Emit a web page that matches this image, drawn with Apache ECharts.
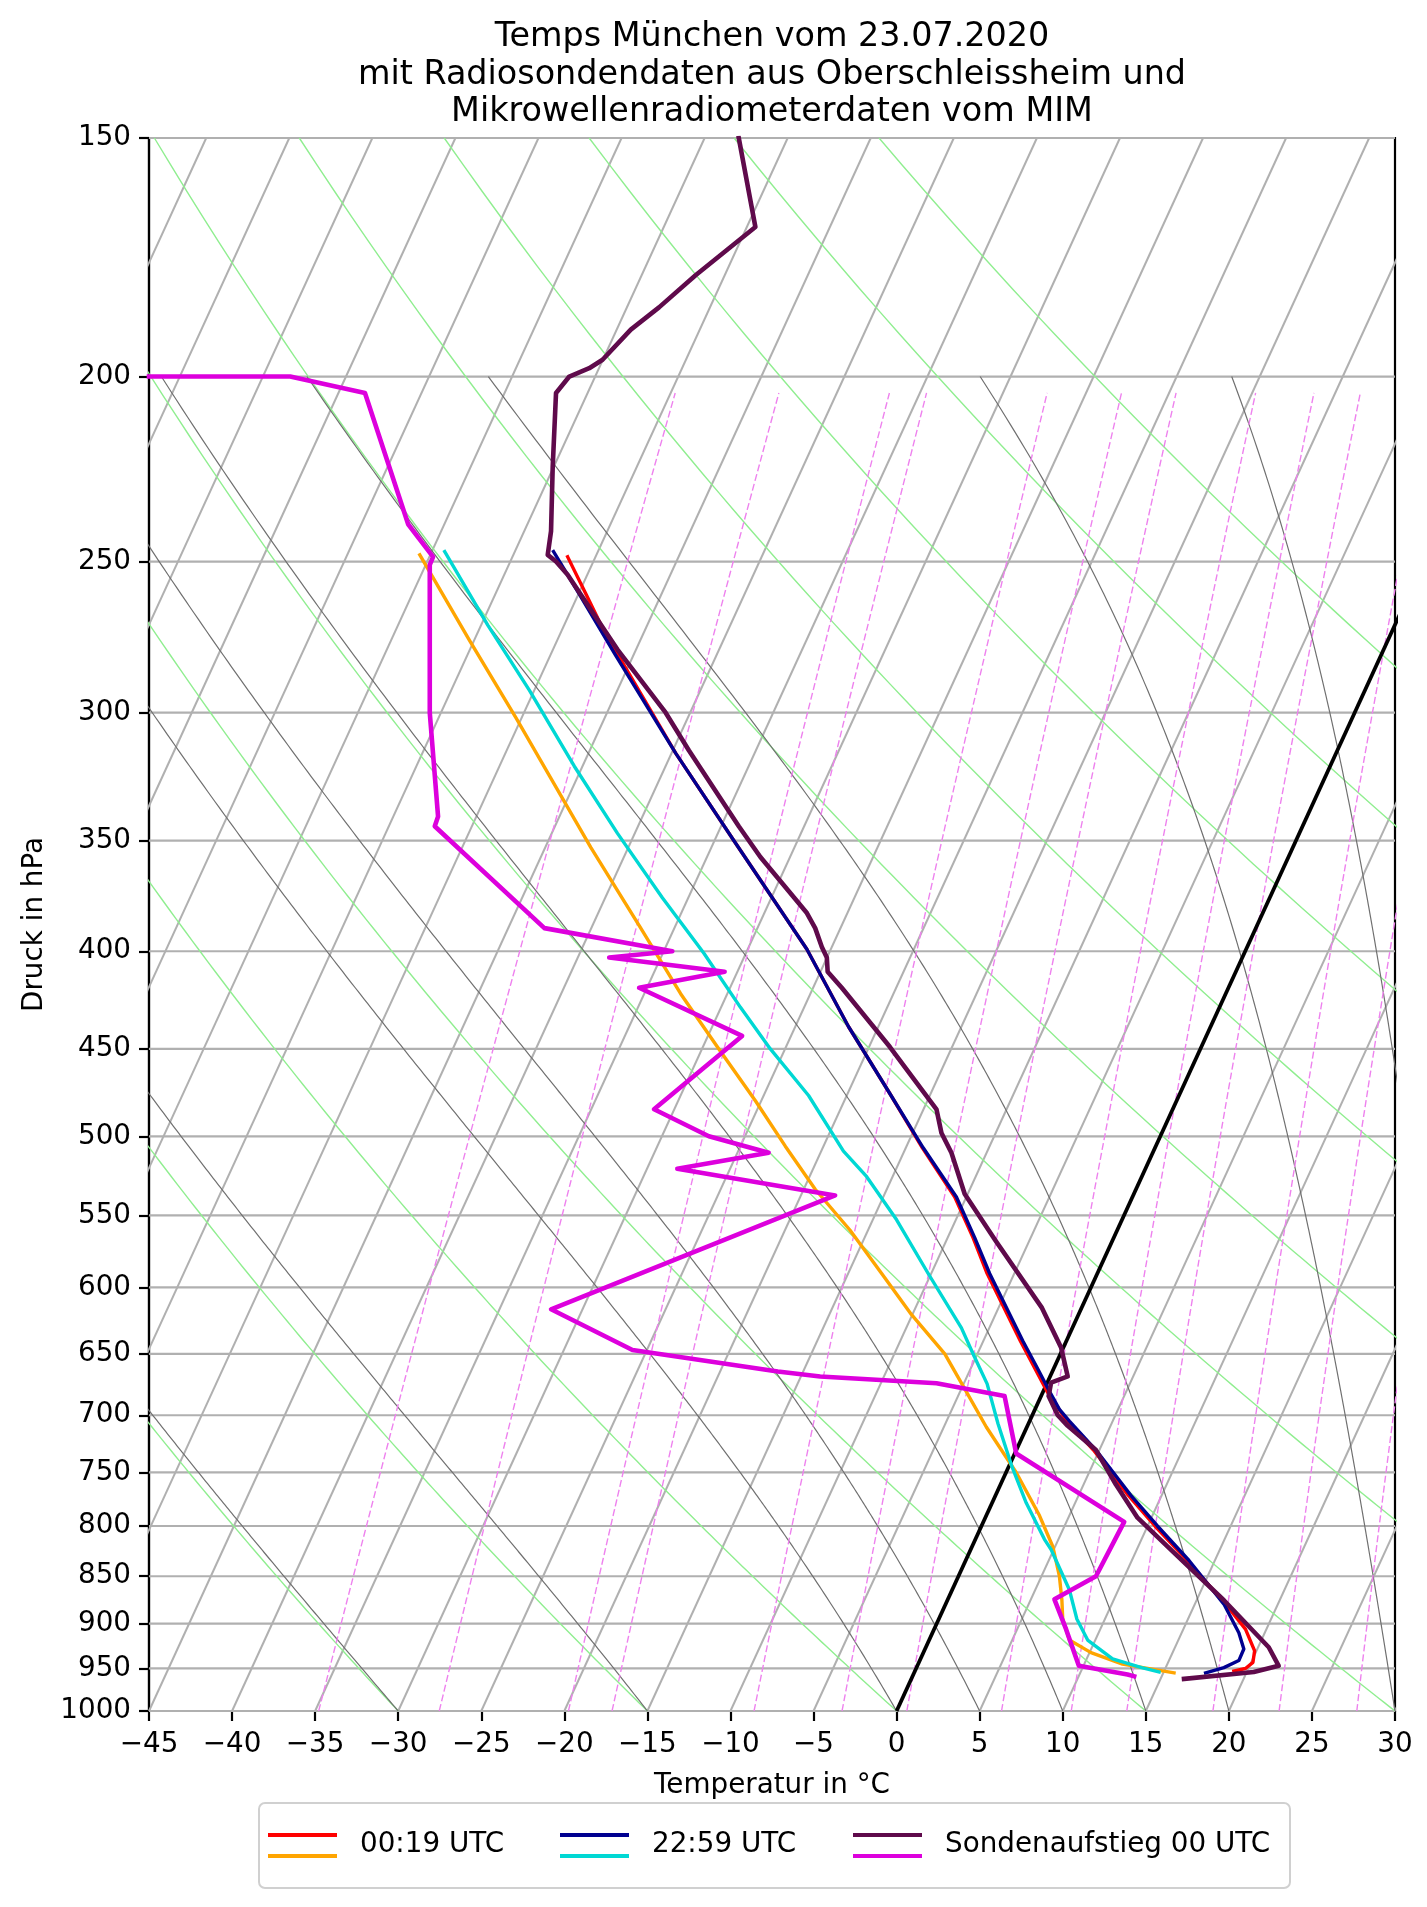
<!DOCTYPE html>
<html>
<head>
<meta charset="utf-8">
<title>Temps München 23.07.2020</title>
<script src="https://cdn.jsdelivr.net/npm/echarts@6/dist/echarts.min.js"></script>
<style>
  html, body { margin: 0; padding: 0; background: #fff; }
  #chart { width: 1427px; height: 1907px; }
</style>
</head>
<body>
<div id="chart"></div>
<script>
// pressure levels of the diagram (hPa)
const pressureTicks = [150, 200, 250, 300, 350, 400, 450, 500, 550, 600, 650, 700, 750, 800, 850, 900, 950, 1000];
const tempMin = -45, tempMax = 30, tempStep = 5;
const skew = 22.9;   // °C of shift per ln(1000/p)

// background lines
const dryAdiabats = [-30, -15, 0, 15, 30, 45, 60, 75, 90, 105, 120];      // theta, °C
const moistAdiabats = [-30, -15, 0, 5, 10, 15, 20, 30, 35];               // T at 1000 hPa, °C
const mixingRatios = [0.2, 0.4, 0.8, 1, 2, 3, 4, 6, 8, 10, 14, 18, 24];   // g/kg

// profiles: pressure (hPa) and position on the temperature axis (°C)
const sondeT_p = [150, 167, 177, 184, 189, 196, 198, 200, 204, 223, 241, 248, 250, 254, 265, 278, 300, 314, 344, 357,
                  382, 389, 398, 403, 410, 418, 449, 484, 498, 510, 536, 567, 615, 645, 668, 673, 684, 700, 709, 730,
                  761, 792, 820, 875, 926, 947, 954, 962];
const sondeT_x = [-9.5, -8.5, -12.1, -14.3, -16.0, -17.7, -18.5, -19.7, -20.5, -20.7, -20.8, -21.0, -20.5, -19.8, -18.4, -16.8, -13.9, -12.5, -9.5, -8.2,
                  -5.4, -4.9, -4.5, -4.2, -4.15, -3.3, -0.4, 2.4, 2.7, 3.3, 4.1, 5.95, 8.75, 9.9, 10.3, 9.3, 9.15, 9.7, 10.3, 12.0,
                  13.2, 14.5, 16.3, 19.7, 22.4, 23.0, 21.5, 17.3];

const sondeTd_p = [200, 200, 204, 239, 248.6, 251, 300, 340, 344, 389, 400, 403, 410, 418, 443, 484, 500, 510, 520, 537,
                   616, 647, 664, 668, 673.5, 684, 733, 796, 850, 874, 906, 947, 957, 959];
const sondeTd_x = [-45, -36.5, -32.0, -29.4, -27.9, -28.1, -28.1, -27.6, -27.8, -21.2, -13.5, -17.3, -10.35, -15.5, -9.3, -14.6, -11.3, -7.7, -13.2, -3.7,
                   -20.8, -15.9, -7.15, -4.6, 2.4, 6.5, 7.2, 13.7, 12.0, 9.5, 10.2, 10.97, 13.9, 14.3];

const mwr0019T_p = [248.6, 260, 272, 315, 350, 399, 438, 475, 507, 538, 565, 590, 640, 680, 705, 730, 771, 800, 834, 880,
                    906, 930, 943, 950, 953];
const mwr0019T_x = [-19.8, -18.7, -17.6, -13.3, -9.8, -5.4, -2.9, -0.4, 1.55, 3.5, 4.6, 5.45, 7.45, 9.05, 10.25, 11.85, 13.95, 15.55, 17.5, 19.85,
                    21.0, 21.55, 21.45, 21.0, 20.3];

const mwr0019Td_p = [248, 275, 302, 353, 389, 421, 450, 479, 506, 533, 560, 590, 620, 650, 678, 710, 750, 790, 820, 850,
                     875, 895, 918, 932, 945, 955];
const mwr0019Td_x = [-28.7, -25.7, -22.9, -18.4, -15.4, -13.0, -10.7, -8.5, -6.7, -4.9, -2.8, -0.9, 0.9, 2.9, 4.1, 5.4, 7.2, 8.6, 9.4, 9.8,
                     9.95, 10.0, 10.4, 11.7, 13.6, 16.7];

const mwr2259T_p = [247, 260, 280, 315, 350, 399, 438, 475, 507, 538, 565, 590, 640, 662, 680, 695, 705, 730, 771, 800,
                    834, 879, 910, 928, 941, 949, 955];
const mwr2259T_x = [-20.65, -19.1, -16.9, -13.3, -9.8, -5.4, -2.9, -0.4, 1.6, 3.6, 4.7, 5.6, 7.6, 8.5, 9.2, 9.8, 10.4, 12.0, 14.1, 15.7,
                    17.6, 19.7, 20.6, 20.9, 20.6, 19.7, 18.6];

const mwr2259Td_p = [247, 270, 292, 320, 347, 375, 401, 428, 450, 476, 509, 525, 553, 590, 630, 650, 674, 707, 745, 778,
                     813, 823, 864, 895, 918, 939, 949, 954];
const mwr2259Td_x = [-27.2, -24.6, -22.1, -19.4, -16.8, -14.1, -11.6, -9.4, -7.6, -5.3, -3.2, -1.8, 0.0, 1.9, 3.9, 4.6, 5.45, 6.1, 6.95, 7.8,
                     8.9, 9.3, 10.4, 10.85, 11.5, 13.0, 14.75, 15.8];

const FONT = 'DejaVu Sans';

function toPoints(ps, xs){
    return ps.map((p, i) => [xs[i], Math.log(p)]);
}

// real temperature (°C) at p -> position on the skewed axis
function skewX(t, p){
    return t + skew * Math.log(1000 / p);
}

function dryLine(theta){
    let pts = [];
    for(let p = 1000; p >= 150; p -= 5){
        let t = (theta + 273.15) * Math.pow(p / 1000, 0.2857) - 273.15;
        pts.push([skewX(t, p), Math.log(p)]);
    }
    return pts;
}

function satMix(p, T){
    const tc = T - 273.15;
    const es = 6.112 * Math.exp(17.67 * tc / (tc + 243.5));
    return 0.621957 * es / (p - es);
}

function moistRate(p, T){
    const Rd = 287.04749, Cp = 1004.6662, Lv = 2.50084e6, eps = 0.621957;
    const rs = satMix(p, T);
    return ((Rd * T + Lv * rs) / (Cp + (Lv * Lv * rs * eps / (Rd * T * T)))) / p;
}

function moistLine(t0){
    let pts = [];
    let T = t0 + 273.15, p = 1000;
    const dp = -2;
    while(p >= 200){
        pts.push([skewX(T - 273.15, p), Math.log(p)]);
        let k1 = moistRate(p, T);
        let k2 = moistRate(p + dp / 2, T + dp / 2 * k1);
        let k3 = moistRate(p + dp / 2, T + dp / 2 * k2);
        let k4 = moistRate(p + dp, T + dp * k3);
        T += dp / 6 * (k1 + 2 * k2 + 2 * k3 + k4);
        p += dp;
    }
    return pts;
}

function mixingLine(w){
    let pts = [];
    for(let p = 1000; p >= 204; p -= 4){
        let e = p * (w / 1000) / (0.621957 + w / 1000);
        let l = Math.log(e / 6.112);
        let td = 243.5 * l / (17.67 - l);
        pts.push([skewX(td, p), Math.log(p)]);
    }
    return pts;
}

function lineSeries(data, color, width, extra){
    let s = {
        type: 'line',
        data: data,
        symbol: 'none',
        showSymbol: false,
        silent: true,
        clip: true,
        animation: false,
        lineStyle: { color: color, width: width, cap: 'butt', join: 'round' },
        z: 2
    };
    return Object.assign(s, extra || {});
}

let series = [];

// isotherms
for(let t = -95; t <= tempMax; t += tempStep){
    series.push(lineSeries([[t, Math.log(1000)], [skewX(t, 150), Math.log(150)]], '#b0b0b0', 2));
}
// pressure grid
pressureTicks.forEach(p => {
    series.push(lineSeries([[tempMin, Math.log(p)], [tempMax, Math.log(p)]], '#b0b0b0', 2.2));
});
dryAdiabats.forEach(th => series.push(lineSeries(dryLine(th), '#90ee90', 1.4)));
moistAdiabats.forEach(t0 => series.push(lineSeries(moistLine(t0), '#707070', 1.2)));
mixingRatios.forEach(w => {
    let s = lineSeries(mixingLine(w), '#ee82ee', 1.4);
    s.lineStyle.type = [7, 3];
    series.push(s);
});
// 0 °C isotherm
series.push(lineSeries([[0, Math.log(1000)], [skewX(0, 150), Math.log(150)]], '#000000', 3.8, { z: 3 }));

// measured profiles
const profiles = [
    { p: mwr0019T_p,  x: mwr0019T_x,  color: '#ff0000', width: 3.4 },
    { p: mwr0019Td_p, x: mwr0019Td_x, color: '#ffa500', width: 3.4 },
    { p: mwr2259T_p,  x: mwr2259T_x,  color: '#000090', width: 3.4 },
    { p: mwr2259Td_p, x: mwr2259Td_x, color: '#00d8d4', width: 3.4 },
    { p: sondeT_p,    x: sondeT_x,    color: '#5f0a4b', width: 4.6 },
    { p: sondeTd_p,   x: sondeTd_x,   color: '#dd00dd', width: 4.6 }
];
profiles.forEach(pr => {
    let s = lineSeries(toPoints(pr.p, pr.x), pr.color, pr.width, { z: 5 });
    s.lineStyle.cap = 'square';
    series.push(s);
});

// legend with paired line handles
const legendItems = [
    { label: '00:19 UTC', colors: ['#ff0000', '#ffa500'], x: 268 },
    { label: '22:59 UTC', colors: ['#000090', '#00d8d4'], x: 560 },
    { label: 'Sondenaufstieg 00 UTC', colors: ['#5f0a4b', '#dd00dd'], x: 853 }
];
let legendGraphic = [{
    type: 'rect',
    shape: { x: 259, y: 1803, width: 1031, height: 85, r: 6 },
    style: { fill: '#ffffff', stroke: '#d0d0d0', lineWidth: 2 }
}];
legendItems.forEach(it => {
    legendGraphic.push({ type: 'line', shape: { x1: it.x, y1: 1835, x2: it.x + 69, y2: 1835 }, style: { stroke: it.colors[0], lineWidth: 4 } });
    legendGraphic.push({ type: 'line', shape: { x1: it.x, y1: 1856, x2: it.x + 69, y2: 1856 }, style: { stroke: it.colors[1], lineWidth: 4 } });
    legendGraphic.push({ type: 'text', x: it.x + 92, y: 1845, style: { text: it.label, fill: '#000', font: '27.8px "' + FONT + '"', verticalAlign: 'middle' } });
});

const yTickValues = pressureTicks.map(p => Math.log(p));

let chart = echarts.init(document.getElementById('chart'), null, { renderer: 'canvas' });
chart.setOption({
    animation: false,
    backgroundColor: '#ffffff',
    title: {
        text: 'Temps München vom 23.07.2020\nmit Radiosondendaten aus Oberschleissheim und\nMikrowellenradiometerdaten vom MIM',
        left: 772,
        top: 19,
        padding: 0,
        textAlign: 'center',
        textStyle: { fontFamily: FONT, fontSize: 33.4, fontWeight: 'normal', lineHeight: 37.5, color: '#000' }
    },
    grid: {
        left: 149, top: 138, width: 1246, height: 1573,
        show: true, borderColor: '#000', borderWidth: 2.2, backgroundColor: 'transparent'
    },
    xAxis: {
        type: 'value',
        min: tempMin, max: tempMax, interval: tempStep,
        name: 'Temperatur in °C',
        nameLocation: 'middle',
        nameGap: 61,
        nameTextStyle: { fontFamily: FONT, fontSize: 27.8, color: '#000' },
        axisLine: { show: true, onZero: false, lineStyle: { color: '#000', width: 2.2 } },
        axisTick: { show: true, inside: false, length: 10, lineStyle: { color: '#000', width: 2.2 } },
        axisLabel: {
            margin: 20, fontFamily: FONT, fontSize: 27.8, color: '#000',
            formatter: v => v < 0 ? '\u2212' + Math.abs(v) : String(v)
        },
        splitLine: { show: false }
    },
    yAxis: {
        type: 'value',
        inverse: true,
        min: Math.log(150), max: Math.log(1000),
        name: 'Druck in hPa',
        nameLocation: 'middle',
        nameGap: 100,
        nameTextStyle: { fontFamily: FONT, fontSize: 27.8, color: '#000' },
        axisLine: { show: true, onZero: false, lineStyle: { color: '#000', width: 2.2 } },
        axisTick: { show: true, inside: false, length: 10, customValues: yTickValues, lineStyle: { color: '#000', width: 2.2 } },
        axisLabel: {
            margin: 18, fontFamily: FONT, fontSize: 27.8, color: '#000',
            customValues: yTickValues,
            formatter: v => String(Math.round(Math.exp(v)))
        },
        splitLine: { show: false }
    },
    series: series,
    graphic: legendGraphic
});
</script>
</body>
</html>
